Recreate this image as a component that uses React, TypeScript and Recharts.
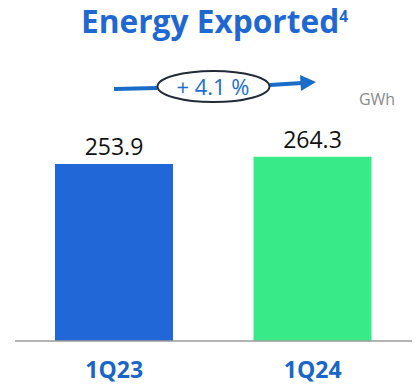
import { Bar, BarChart, Cell, LabelList, XAxis, YAxis } from "recharts";

const QUARTERS = ["1Q23", "1Q24"];
const EXPORTED_GWH = [253.9, 264.3];
const UNIT = "GWh";

const BLUE = "#1f68d2";
const BAR_FILLS = ["#2267d8", "#38eb88"];
const FONT = "'Open Sans', 'Noto Sans', sans-serif";

const rows = QUARTERS.map((q, i) => ({ q, v: EXPORTED_GWH[i] }));
const growth = ((EXPORTED_GWH[1] / EXPORTED_GWH[0] - 1) * 100).toFixed(1);

function QuarterTick({ x, y, payload }: any) {
  return (
    <text
      x={x}
      y={y + 29}
      textAnchor="middle"
      fill="#1a66c8"
      fontFamily={FONT}
      fontWeight={700}
      fontSize={23}
    >
      {payload.value}
    </text>
  );
}

export default function App() {
  return (
    <div style={{ position: "absolute", left: 0, top: 0, width: 416, height: 385, background: "#fff" }}>
      <BarChart
        width={416}
        height={385}
        data={rows}
        margin={{ top: 97, right: 4, left: 15, bottom: 0 }}
        barCategoryGap={0}
      >
        <YAxis hide domain={[0, 350]} />
        <XAxis
          dataKey="q"
          height={44}
          tickLine={false}
          axisLine={{ stroke: "#9a9a9a", strokeWidth: 1.5 }}
          tick={<QuarterTick />}
        />
        <Bar dataKey="v" barSize={118} isAnimationActive={false}>
          {rows.map((r, i) => (
            <Cell key={r.q} fill={BAR_FILLS[i]} />
          ))}
          <LabelList
            dataKey="v"
            position="top"
            offset={9}
            fill="#111"
            fontFamily={FONT}
            fontSize={23}
          />
        </Bar>
      </BarChart>

      {/* title, growth arrow and unit drawn over the chart */}
      <svg
        width={416}
        height={385}
        style={{ position: "absolute", left: 0, top: 0, pointerEvents: "none" }}
      >
        <text
          x={81}
          y={33}
          textLength={267}
          lengthAdjust="spacingAndGlyphs"
          fill={BLUE}
          fontFamily={FONT}
          fontWeight={700}
          fontSize={33}
        >
          Energy Exported
          <tspan fontSize={16} dy={-11}>4</tspan>
        </text>
        <path d="M114 89 L157 88 M270 85 L302 83" stroke="#1a6cc8" strokeWidth={4} fill="none" />
        <polygon points="300,75 316,82 301,91" fill="#1a6cc8" />
        <ellipse cx={213.5} cy={86.5} rx={56} ry={15.5} fill="#fff" stroke="#222a38" strokeWidth={2} />
        <text x={213} y={95} textAnchor="middle" fill="#1a6fd0" fontFamily={FONT} fontSize={22}>
          {`+ ${growth} %`}
        </text>
        <text x={377} y={105} textAnchor="middle" fill="#8a8a8a" fontFamily={FONT} fontSize={16}>
          {UNIT}
        </text>
      </svg>
    </div>
  );
}
